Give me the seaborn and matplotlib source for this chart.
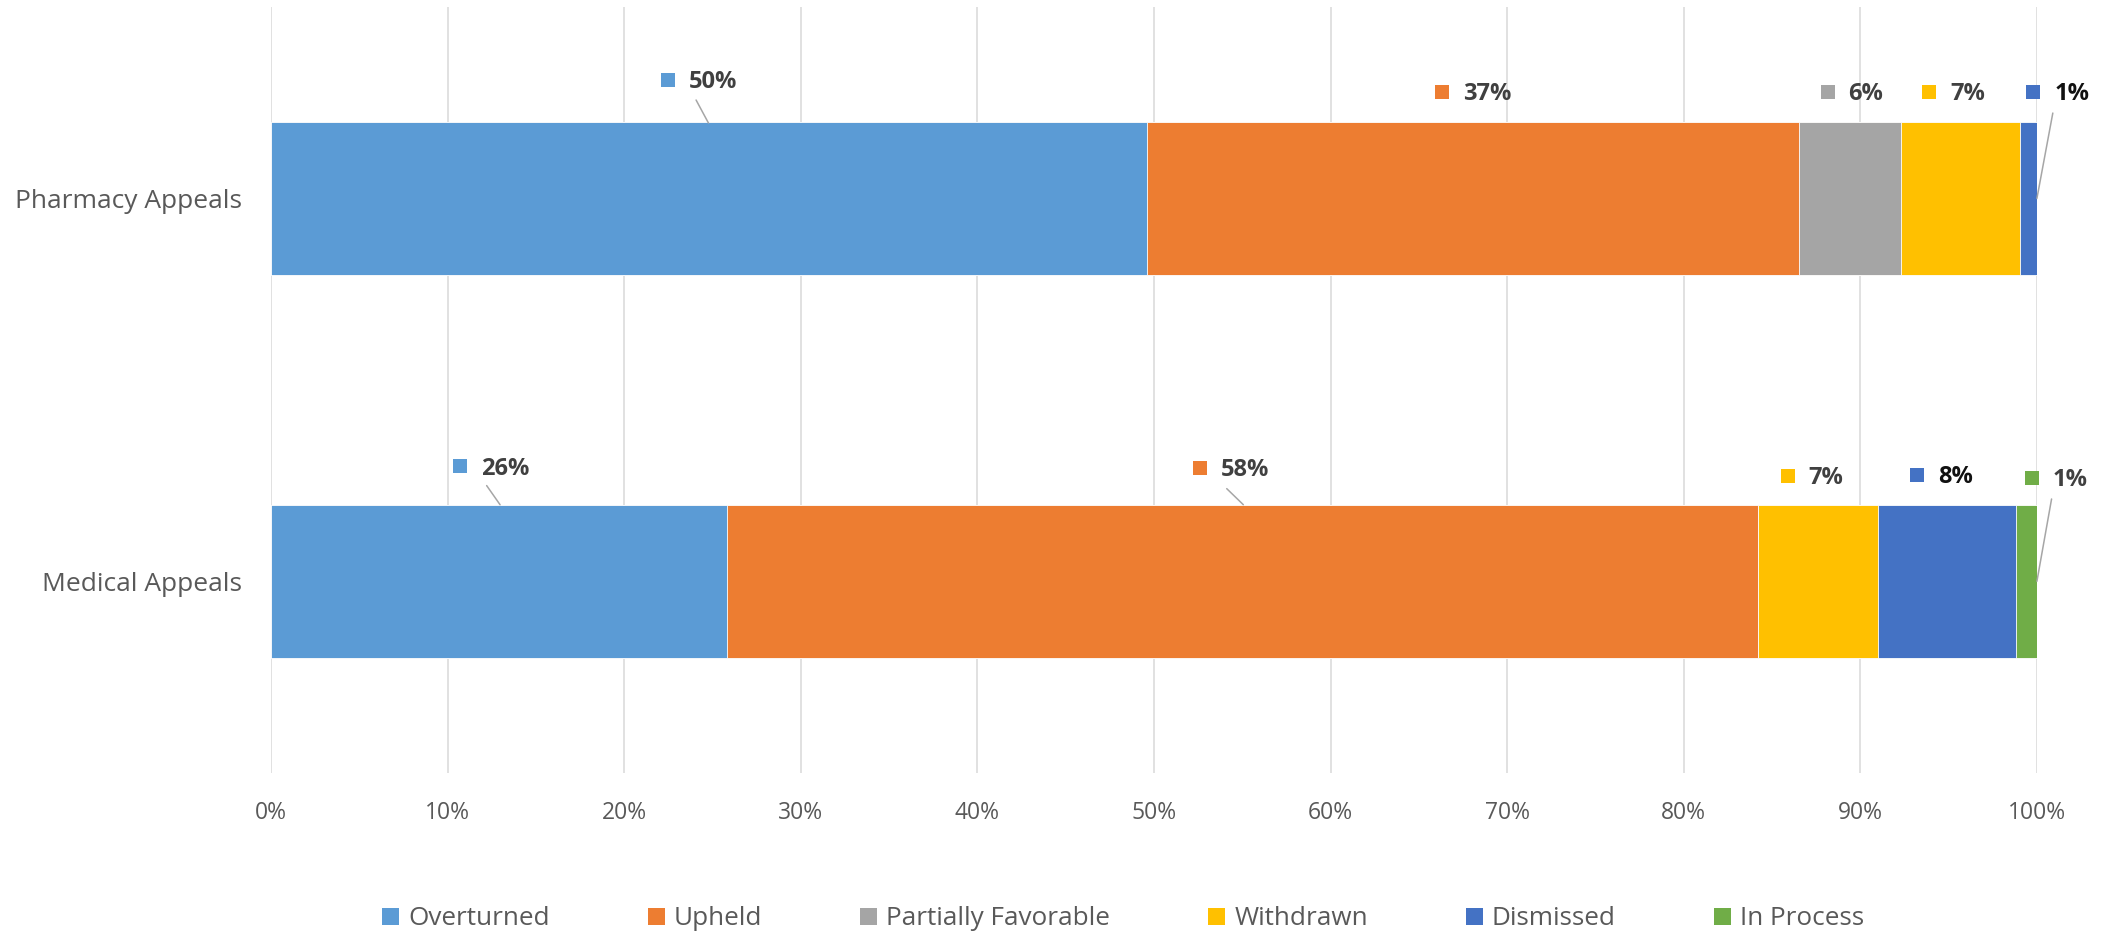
import pandas as pd
import matplotlib
matplotlib.use("Agg")
import matplotlib.pyplot as plt
import seaborn as sns
from matplotlib.patches import Patch

# appeal outcomes, share of appeals in percent
categories = ["Pharmacy Appeals", "Medical Appeals"]
series = ["Overturned", "Upheld", "Partially Favorable", "Withdrawn", "Dismissed", "In Process"]
overturned = [49.6, 25.8]
upheld = [36.9, 58.4]
partially_favorable = [5.8, 0.0]
withdrawn = [6.75, 6.8]
dismissed = [0.95, 7.8]
in_process = [0.0, 1.2]

colors = ["#5B9BD5", "#ED7D31", "#A5A5A5", "#FFC000", "#4472C4", "#70AD47"]
label_colors = ["#404040", "#404040", "#404040", "#404040", "#111111", "#404040"]

# where the data labels sit (x in %, y in category units), None = no label
label_x = {
    "Pharmacy Appeals": [22.5, 66.3, 88.15, 93.9, 99.8, None],
    "Medical Appeals": [10.7, 52.6, None, 85.9, 93.2, 99.7],
}
label_y = {
    "Pharmacy Appeals": [-0.31, -0.277, -0.277, -0.277, -0.277, None],
    "Medical Appeals": [0.700, 0.704, None, 0.724, 0.723, 0.731],
}
# leader lines from label to bar
leaders = [
    ((24.07, -0.257), (24.77, -0.197)),
    ((100.9, -0.223), (100.0, 0.0)),
    ((12.21, 0.750), (12.97, 0.800)),
    ((54.12, 0.758), (55.06, 0.800)),
    ((100.83, 0.785), (100.0, 1.0)),
]

df = pd.DataFrame(
    {
        "Overturned": overturned,
        "Upheld": upheld,
        "Partially Favorable": partially_favorable,
        "Withdrawn": withdrawn,
        "Dismissed": dismissed,
        "In Process": in_process,
    },
    index=categories,
)
cum = df.cumsum(axis=1)

sns.set_theme(style="white")
plt.rcParams["font.family"] = ["Open Sans", "DejaVu Sans"]

fig, ax = plt.subplots(figsize=(21.01, 9.31), dpi=100)
fig.subplots_adjust(left=0.129, right=0.9695, top=0.9925, bottom=0.170)

# stacked bars: draw cumulative totals from the longest one down
for name, color in reversed(list(zip(series, colors))):
    plot_df = pd.DataFrame({"category": categories, "value": cum[name].values})
    sns.barplot(
        data=plot_df,
        x="value",
        y="category",
        order=categories,
        orient="h",
        color=color,
        saturation=1,
        width=0.4,
        edgecolor="white",
        linewidth=0.6,
        ax=ax,
    )

# data labels with legend key
for cat in categories:
    for i, name in enumerate(series):
        lx = label_x[cat][i]
        if lx is None:
            continue
        ly = label_y[cat][i]
        ax.scatter([lx], [ly], marker="s", s=115, color=colors[i], linewidths=0, clip_on=False, zorder=5)
        ax.annotate(
            f"{df.loc[cat, name]:.0f}%",
            xy=(lx, ly),
            xytext=(15, -1.5),
            textcoords="offset points",
            ha="left",
            va="center",
            fontsize=17,
            fontweight="bold",
            color=label_colors[i],
            annotation_clip=False,
        )

for (x0, y0), (x1, y1) in leaders:
    ax.plot([x0, x1], [y0, y1], color="#A6A6A6", linewidth=1.1, clip_on=False, zorder=4)

ax.set_xlim(0, 100)
ax.set_ylim(1.5, -0.5)
ax.set_xticks(range(0, 101, 10))
ax.set_xticklabels([f"{v}%" for v in range(0, 101, 10)])
ax.set_xlabel("")
ax.set_ylabel("")
ax.set_axisbelow(True)
ax.grid(axis="x", color="#D9D9D9", linewidth=1.1)
ax.grid(axis="y", visible=False)
for s in ax.spines.values():
    s.set_visible(False)
ax.tick_params(axis="x", length=0, pad=20, labelsize=16.5, labelcolor="#595959")
ax.tick_params(axis="y", length=0, pad=21, labelsize=19, labelcolor="#595959")

handles = [Patch(facecolor=c, edgecolor="none") for c in colors]
fig.legend(
    handles,
    series,
    loc="center",
    bbox_to_anchor=(0.5345, 0.013),
    ncol=6,
    frameon=False,
    handlelength=0.65,
    handleheight=0.65,
    handletextpad=0.35,
    columnspacing=3.75,
    fontsize=18.8,
    labelcolor="#595959",
)

plt.savefig("out.png", dpi=100)
